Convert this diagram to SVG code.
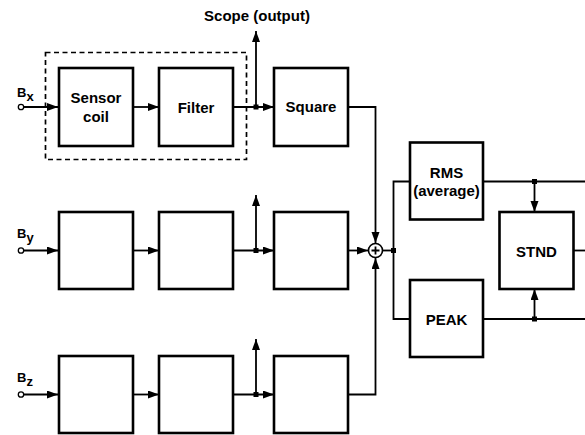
<svg xmlns="http://www.w3.org/2000/svg" width="585" height="435" viewBox="0 0 585 435">
<style>
.box{fill:#fff;stroke:#000;stroke-width:2.6}
.ln{fill:none;stroke:#000;stroke-width:1.8}
.t{font-family:"Liberation Sans",Arial,sans-serif;font-weight:bold;font-size:15px;fill:#000;text-anchor:middle}
.lab{font-family:"Liberation Sans",Arial,sans-serif;font-weight:bold;font-size:13px;fill:#000}
.dot{fill:#000}
.in{fill:#fff;stroke:#000;stroke-width:1.3}
</style>
<defs>
<marker id="ah" markerUnits="userSpaceOnUse" markerWidth="12" markerHeight="9" refX="11" refY="4" orient="auto">
<path d="M0,0 L11,4 L0,8 z" fill="#000"/>
</marker>
</defs>
<rect x="45.5" y="52.5" width="201" height="107" fill="none" stroke="#000" stroke-width="1.7" stroke-dasharray="5,3.5"/>
<g id="connectors">
<path class="ln" d="M23.5,107 H58" marker-end="url(#ah)"/>
<path class="ln" d="M133,107 H159" marker-end="url(#ah)"/>
<path class="ln" d="M233,107 H274" marker-end="url(#ah)"/>
<path class="ln" d="M256,107 V31" marker-end="url(#ah)"/>
<rect class="dot" x="253.5" y="104.5" width="5" height="5"/>
<path class="ln" d="M348,107 H375.5 V243" marker-end="url(#ah)"/>
<path class="ln" d="M23.5,250.5 H58" marker-end="url(#ah)"/>
<path class="ln" d="M133,250.5 H159" marker-end="url(#ah)"/>
<path class="ln" d="M233,250.5 H274" marker-end="url(#ah)"/>
<path class="ln" d="M256,250.5 V195" marker-end="url(#ah)"/>
<rect class="dot" x="253.5" y="248" width="5" height="5"/>
<path class="ln" d="M348,250.5 H368" marker-end="url(#ah)"/>
<path class="ln" d="M23.5,394.5 H58" marker-end="url(#ah)"/>
<path class="ln" d="M133,394.5 H159" marker-end="url(#ah)"/>
<path class="ln" d="M233,394.5 H274" marker-end="url(#ah)"/>
<path class="ln" d="M256,394.5 V339" marker-end="url(#ah)"/>
<rect class="dot" x="253.5" y="392" width="5" height="5"/>
<path class="ln" d="M348,394.5 H375.5 V258" marker-end="url(#ah)"/>
<path class="ln" d="M383,250.5 H393.5"/>
<path class="ln" d="M410,181.5 H393.5 V319 H410"/>
<rect class="dot" x="391" y="248" width="5" height="5"/>
<path class="ln" d="M483,181.5 H585"/>
<path class="ln" d="M483,319 H585"/>
<path class="ln" d="M534.5,181.5 V212" marker-end="url(#ah)"/>
<rect class="dot" x="532" y="179" width="5" height="5"/>
<path class="ln" d="M534.5,319 V289" marker-end="url(#ah)"/>
<rect class="dot" x="532" y="316.5" width="5" height="5"/>
<path class="ln" d="M573,250.5 H585"/>
</g>
<g id="inputs">
<circle class="in" cx="21" cy="107" r="2.7"/>
<circle class="in" cx="21" cy="250.5" r="2.7"/>
<circle class="in" cx="21" cy="394.5" r="2.7"/>
<text class="lab" x="17" y="96.5">B<tspan dy="4">x</tspan></text>
<text class="lab" x="17" y="238">B<tspan dy="3.5">y</tspan></text>
<text class="lab" x="17" y="382">B<tspan dy="3.5">z</tspan></text>
</g>
<g id="sensor-coil"><rect class="box" x="59" y="68" width="74" height="78"/><text class="t" x="96" y="103">Sensor</text><text class="t" x="96" y="122">coil</text></g>
<g id="filter"><rect class="box" x="159" y="68" width="74" height="78"/><text class="t" x="196" y="112.5">Filter</text></g>
<g id="square"><rect class="box" x="274" y="68" width="74" height="78"/><text class="t" x="311" y="111.5">Square</text></g>
<g id="scope"><text class="t" x="257" y="20.5">Scope (output)</text></g>
<g id="row2-coil"><rect class="box" x="59" y="212" width="74" height="77"/></g>
<g id="row2-filter"><rect class="box" x="159" y="212" width="74" height="77"/></g>
<g id="row2-square"><rect class="box" x="274" y="212" width="74" height="77"/></g>
<g id="row3-coil"><rect class="box" x="59" y="356" width="74" height="77"/></g>
<g id="row3-filter"><rect class="box" x="159" y="356" width="74" height="77"/></g>
<g id="row3-square"><rect class="box" x="274" y="356" width="74" height="77"/></g>
<g id="sum"><circle cx="375.5" cy="250.5" r="7" fill="#fff" stroke="#000" stroke-width="1.6"/><path class="ln" d="M371.5,250.5 H379.5 M375.5,246.5 V254.5" stroke-width="1.4"/></g>
<g id="rms"><rect class="box" x="410" y="142.5" width="73" height="77"/><text class="t" x="446.5" y="177.5">RMS</text><text class="t" x="446.5" y="196">(average)</text></g>
<g id="peak"><rect class="box" x="410" y="280" width="73" height="77"/><text class="t" x="446.5" y="325">PEAK</text></g>
<g id="stnd"><rect class="box" x="499.5" y="212" width="74" height="77"/><text class="t" x="536.5" y="256.5">STND</text></g>
</svg>
